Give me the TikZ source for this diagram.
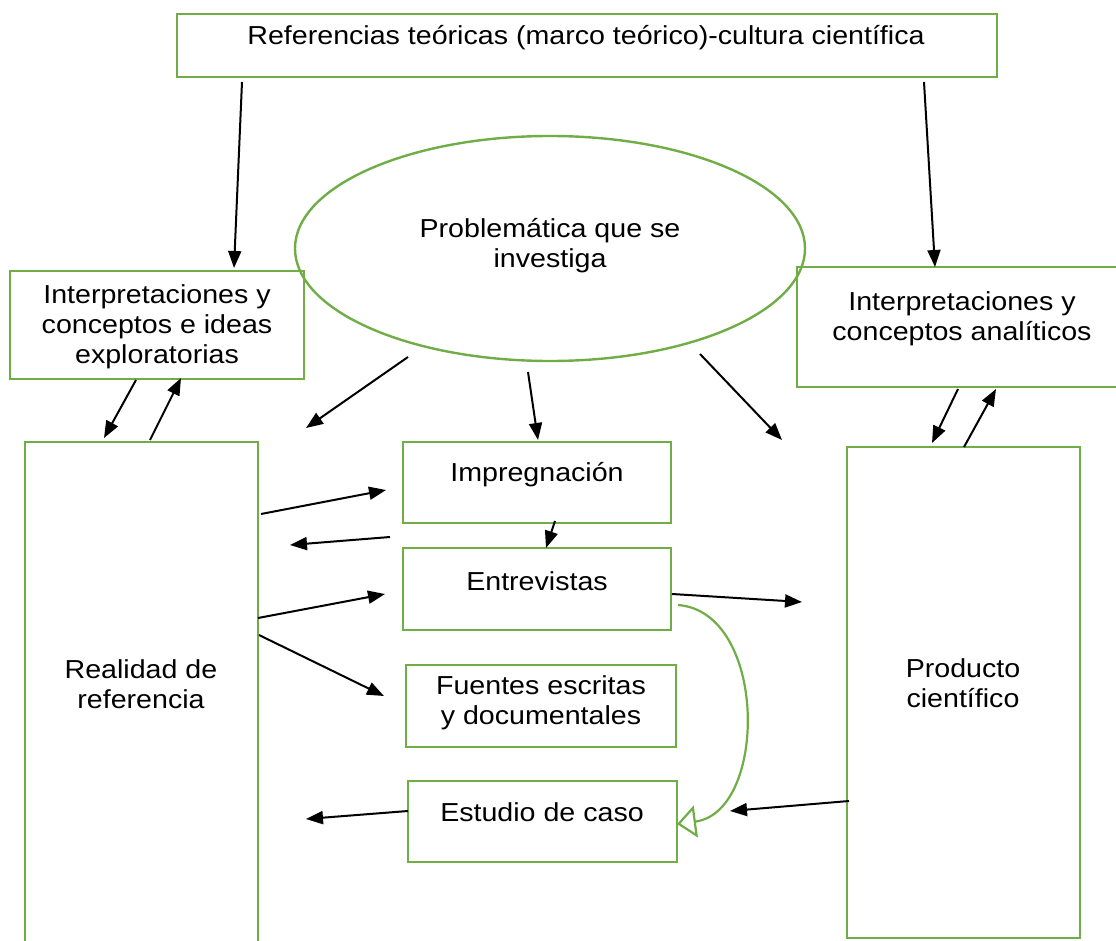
\documentclass[tikz,border=0pt]{standalone}
\usepackage{fontspec}
\setmainfont{Liberation Sans}[FakeStretch=1.10]
\usetikzlibrary{arrows.meta,shapes.geometric}
\definecolor{gr}{RGB}{112,173,71}
\tikzset{
  box/.style={draw=gr, line width=2.4pt, fill=none, inner sep=0pt},
  txt/.style={align=center, inner sep=0pt, font=\fontsize{26}{30}\selectfont},
  arr/.style={line width=2pt, -{Triangle[length=17pt,width=13pt]}},
}
\begin{document}
\begin{tikzpicture}[x=1pt,y=-1pt]
\useasboundingbox (0,0) rectangle (1116,941);
% boxes
\node[box, minimum width=820pt, minimum height=63pt] (top) at (587,45.5) {};
\node[txt] (toptxt) at (586,38) {Referencias teóricas (marco teórico)-cultura científica};
\node[box, ellipse, minimum width=510pt, minimum height=225pt] (prob) at (550,248.5) {};
\node[txt] (probtxt) at (550,246) {Problemática que se\\investiga};
\node[box, minimum width=294pt, minimum height=108pt] (li) at (157,325) {};
\node[txt] (litxt) at (157,327) {Interpretaciones y\\conceptos e ideas\\exploratorias};
\node[box, minimum width=323pt, minimum height=120pt] (ri) at (958.5,327) {};
\node[txt] (ritxt) at (962,319) {Interpretaciones y\\conceptos analíticos};
\node[box, minimum width=233pt, minimum height=540pt] (real) at (141.5,712) {};
\node[txt] (realtxt) at (141,684) {Realidad de\\referencia};
\node[box, minimum width=268pt, minimum height=81pt] (imp) at (537,482.5) {};
\node[txt] (imptxt) at (537,475) {Impregnación};
\node[box, minimum width=268pt, minimum height=82pt] (ent) at (537,589) {};
\node[txt] (enttxt) at (537,581) {Entrevistas};
\node[box, minimum width=270pt, minimum height=82pt] (fue) at (541,706) {};
\node[txt] (fuetxt) at (541,703) {Fuentes escritas\\y documentales};
\node[box, minimum width=269pt, minimum height=81pt] (est) at (542.5,821.5) {};
\node[txt] (esttxt) at (542,812) {Estudio de caso};
\node[box, minimum width=233pt, minimum height=491pt] (prod) at (963.5,692.5) {};
\node[txt] (prodtxt) at (963,683) {Producto\\científico};
% coordinates
\coordinate (a1s) at (242,82);  \coordinate (a1e) at (234,268);
\coordinate (a2s) at (924,82);  \coordinate (a2e) at (935,267);
\coordinate (a3s) at (408,357); \coordinate (a3e) at (306,428);
\coordinate (a4s) at (528,372); \coordinate (a4e) at (538,440);
\coordinate (a5s) at (700,354); \coordinate (a5e) at (782,440);
\coordinate (a6s) at (136,380); \coordinate (a6e) at (104,438);
\coordinate (a7s) at (150,440); \coordinate (a7e) at (181,378);
\coordinate (a8s) at (958,389); \coordinate (a8e) at (932,443);
\coordinate (a9s) at (964,447); \coordinate (a9e) at (996,389);
\coordinate (b1s) at (261,514); \coordinate (b1e) at (386,490);
\coordinate (b2s) at (390,537); \coordinate (b2e) at (290,545);
\coordinate (b3s) at (555,521); \coordinate (b3e) at (546,548);
\coordinate (b4s) at (258,618); \coordinate (b4e) at (385,594);
\coordinate (b5s) at (259,635); \coordinate (b5e) at (384,696);
\coordinate (b6s) at (672,594); \coordinate (b6e) at (802,602);
\coordinate (b7s) at (408,811); \coordinate (b7e) at (306,819);
\coordinate (b8s) at (849,801); \coordinate (b8e) at (730,811);
\coordinate (cs) at (678,605);  \coordinate (ce) at (677,824);
% arrows
\draw[arr] (a1s) -- (a1e);
\draw[arr] (a2s) -- (a2e);
\draw[arr] (a3s) -- (a3e);
\draw[arr] (a4s) -- (a4e);
\draw[arr] (a5s) -- (a5e);
\draw[arr] (a6s) -- (a6e);
\draw[arr] (a7s) -- (a7e);
\draw[arr] (a8s) -- (a8e);
\draw[arr] (a9s) -- (a9e);
\draw[arr] (b1s) -- (b1e);
\draw[arr] (b2s) -- (b2e);
\draw[arr] (b3s) -- (b3e);
\draw[arr] (b4s) -- (b4e);
\draw[arr] (b5s) -- (b5e);
\draw[arr] (b6s) -- (b6e);
\draw[arr] (b7s) -- (b7e);
\draw[arr] (b8s) -- (b8e);
\draw[gr, line width=2.2pt, -{Triangle[open,length=19pt,width=32pt]}]
  (cs) .. controls (768,612) and (768,812) .. (ce);
\end{tikzpicture}
\end{document}
